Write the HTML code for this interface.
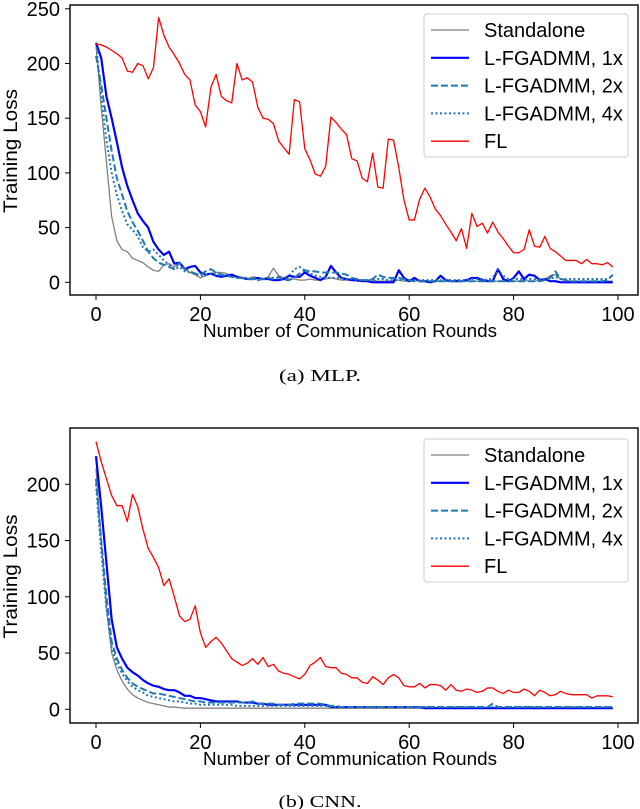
<!DOCTYPE html>
<html><head><meta charset="utf-8">
<style>
html,body{margin:0;padding:0;background:#fff;}
svg{display:block;}
text{font-family:"Liberation Sans","DejaVu Sans",sans-serif;fill:#000;}
.cap{font-family:"Liberation Serif",serif;font-size:17px;}
</style></head>
<body>
<svg id="svg" width="640" height="809" viewBox="0 0 640 809" xmlns="http://www.w3.org/2000/svg">
<text class="cap" x="320" y="381" text-anchor="middle" textLength="82" lengthAdjust="spacingAndGlyphs">(a)  MLP.</text>
<text class="cap" x="320" y="807" text-anchor="middle" textLength="83" lengthAdjust="spacingAndGlyphs">(b)  CNN.</text>
</svg>
<script>
const rounds = Array.from({length:100},(_, i)=>i);
const xTicks = [0,20,40,60,80,100];
const seriesNames = ["Standalone","L-FGADMM, 1x","L-FGADMM, 2x","L-FGADMM, 4x","FL"];

const mlpStandalone = [218,160,110,60,38,30,28,22,20,18,14,11,10,16,17,14,18,12,9,7,4,6,8,9,9,8,6,5,4,3,5,4,3,5,13,6,4,3,3,2,2,3,2,2,3,4,3,2,2,2,1,1,2,2,1,1,1,2,2,1,1,1,2,1,1,1,1,1,1,2,1,1,1,1,1,2,1,1,1,1,1,1,2,1,1,2,3,6,7,3,2,1,1,1,1,1,1,1,1,1];
const mlp1x = [219,205,170,150,128,105,88,75,63,56,50,37,30,25,28,17,18,12,14,15,9,7,8,6,5,6,7,5,4,3,3,4,3,3,2,2,3,6,5,5,9,6,4,2,5,15,9,4,3,2,2,1,1,0,0,0,0,0,11,4,1,4,1,1,0,1,6,2,1,1,1,2,4,4,2,1,1,12,3,1,4,10,3,7,6,2,3,1,1,0,0,0,0,0,0,0,0,0,0,0];
const mlp2x = [207,180,150,120,95,80,65,55,47,38,28,22,18,16,14,12,18,12,10,8,7,10,12,9,7,6,5,4,4,3,3,2,3,4,3,5,2,2,4,8,11,10,10,9,9,9,9,8,7,4,3,2,2,3,7,5,4,4,4,3,2,1,1,1,1,1,1,1,1,1,1,1,1,1,1,1,1,1,1,1,1,1,1,1,1,1,2,4,10,3,2,1,1,1,1,1,1,1,2,7];
const mlp4x = [219,170,130,100,80,65,53,48,42,32,28,30,25,20,16,12,14,10,9,8,6,7,8,7,6,6,5,4,4,4,3,3,3,4,4,3,4,6,12,14,11,8,6,5,4,4,4,4,3,3,2,2,2,2,3,3,2,2,2,2,2,2,2,2,2,2,2,2,2,2,2,2,3,3,3,2,4,12,6,3,3,3,3,3,3,3,3,3,5,3,3,3,3,3,3,3,3,3,3,6];
const mlpFL = [218,217,215,212,209,205,193,192,200,198,186,196,242,226,215,208,200,190,185,162,156,142,178,190,170,166,164,200,185,187,183,160,150,149,145,129,123,117,167,165,122,112,99,97,106,151,146,140,135,113,111,95,92,118,87,86,131,130,105,75,57,57,76,86,78,67,61,53,46,38,49,31,63,51,54,45,55,46,40,33,27,27,30,48,33,32,42,31,28,24,20,20,20,17,21,17,17,16,18,14];

const cnnStandalone = [214,150,90,50,35,25,18,13,10,8,6,5,4,3,2,2,1.5,1,1,1,1,1,1,1,1,1,1,1,1,1,1,1,1,1,1,1,1,1,1,1,1,1,1,1,1,1,1,1,1,1,1,1,1,1,1,1,1,1,1,1,1,1,1,1,1,1,1,1,1,1,1,1,1,1,1,1,1,1,1,1,1,1,1,1,1,1,1,1,1,1,1,1,1,1,1,1,1,1,1,1];
const cnn1x = [225,180,130,80,55,45,37,33,30,26,23,21,20,18,17,17,15,12,12,10,10,9,8,7,7,7,7,7,6,6,6,5,5,4,4,4,4,4,4,4,4,4,4,4,4,2,2,2,2,2,2,2,2,2,2,2,2,2,2,2,2,2,2,1,1,1,1,1,1,1,1,1,1,1,1,1,1,1,1,1,1,1,1,1,1,1,1,1,1,1,1,1,1,1,1,1,1,1,1,1];
const cnn2x = [205,150,100,60,45,35,28,23,20,18,16,14,14,13,12,11,10,9,8,7,7,6,6,6,6,6,6,6,6,6,7,5,5,5,5,4,4,4,5,5,5,5,5,5,4,3,3,2,2,2,2,2,2,2,2,2,2,2,2,2,2,2,2,2,2,2,2,2,2,2,2,2,2,2,2,2,5,2,2,2,2,2,2,2,2,2,2,2,2,2,2,2,2,2,2,2,2,2,2,2];
const cnn4x = [200,140,90,55,40,32,25,20,17,15,12,11,10,9,8,7,7,6,5,5,4,4,4,4,4,4,4,3,3,3,3,3,3,3,3,3,3,3,3,3,3,3,3,3,3,2,2,2,2,2,2,2,2,2,2,2,2,2,2,2,2,2,2,2,2,2,2,2,2,2,2,2,2,2,2,2,2,2,2,2,2,2,2,2,2,2,2,2,2,2,2,2,2,2,2,2,2,2,2,2];
const cnnFL = [238,220,205,190,181,181,167,191,180,160,143,135,126,110,116,100,83,78,80,92,68,55,60,64,59,52,45,42,39,41,45,40,46,38,40,34,32,31,29,27,31,39,42,46,38,37,37,32,31,28,28,24,23,29,26,22,28,31,28,21,20,20,23,19,22,22,21,17,22,17,16,18,17,15,16,19,19,16,14,17,15,15,18,16,12,17,15,12,13,16,14,13,13,13,13,10,12,12,12,11];

const mlpYTicks = [0,50,100,150,200,250];
const cnnYTicks = [0,50,100,150,200];

const NS="http://www.w3.org/2000/svg";
const svg=document.getElementById('svg');
function mk(tag,attrs,parent){const e=document.createElementNS(NS,tag);for(const k in attrs)e.setAttribute(k,attrs[k]);(parent||svg).appendChild(e);return e;}

const styles=[
 {stroke:"#808080",w:1.3,dash:""},
 {stroke:"#0000ff",w:2.2,dash:""},
 {stroke:"#1f77b4",w:2,dash:"7,3"},
 {stroke:"#1f77b4",w:2,dash:"2,2.5"},
 {stroke:"#ff0000",w:1.3,dash:""}
];

function chart(cfg){
  const g=mk('g',{});
  
  
  const L=70,R=638,T=cfg.top,B=cfg.bottom;
  const xS=v=>96+(v/100)*(618-96);
  const yS=v=>cfg.y0-(v*cfg.pxPerUnit);
  const clip='clip-'+cfg.name;
  const cp=mk('clipPath',{id:clip},g);mk('rect',{x:L,y:T,width:R-L,height:B-T},cp);
  xTicks.forEach(t=>{
    mk('line',{x1:xS(t),x2:xS(t),y1:B,y2:B+5,stroke:'#000','stroke-width':1},g);
    const tx=mk('text',{x:xS(t),y:B+26,'text-anchor':'middle','font-size':20},g);
    tx.textContent=t;
    
    
  });
  cfg.yTicks.forEach(t=>{
    mk('line',{x1:L-5,x2:L,y1:yS(t),y2:yS(t),stroke:'#000','stroke-width':1},g);
    const tx=mk('text',{x:L-10,y:yS(t)+7,'text-anchor':'end','font-size':20},g);
    tx.textContent=t;
    
    
  });
  cfg.series.forEach((arr,i)=>{
    const d=arr.map((v,j)=>(j?'L':'M')+xS(rounds[j]).toFixed(2)+','+yS(v).toFixed(2)).join(' ');
    const p=mk('path',{d:d,fill:'none',stroke:styles[i].stroke,'stroke-width':styles[i].w,'stroke-dasharray':styles[i].dash,'clip-path':'url(#'+clip+')','stroke-linejoin':'round'},g);
    
    
  });
  const frame=mk('rect',{x:L,y:T,width:R-L,height:B-T,fill:'none',stroke:'#000','stroke-width':1.4},g);
  
  
  const yl=mk('text',{x:0,y:0,'text-anchor':'middle','font-size':19,textLength:124,lengthAdjust:'spacingAndGlyphs',transform:`translate(17,${(T+B)/2+1}) rotate(-90)`},g);
  yl.textContent='Training Loss';
  
  
  const xl=mk('text',{x:350,y:B+42,'text-anchor':'middle','font-size':18,textLength:294,lengthAdjust:'spacingAndGlyphs'},g);
  xl.textContent='Number of Communication Rounds';
  
  
  const lg=mk('g',{},g);
  
  
  mk('rect',{x:424,y:cfg.legTop,width:204,height:143,rx:3,fill:'#fff','fill-opacity':0.85,stroke:'#ccc','stroke-width':1},lg);
  seriesNames.forEach((n,i)=>{
    const yy=cfg.legTop+16+i*27.8;
    mk('line',{x1:431,x2:469,y1:yy,y2:yy,stroke:styles[i].stroke,'stroke-width':styles[i].w,'stroke-dasharray':styles[i].dash},lg);
    const t=mk('text',{x:484,y:yy+7,'font-size':20},lg);
    t.textContent=n;
    
    
  });
}
chart({name:'mlp-chart',top:5,bottom:295,y0:282.3,pxPerUnit:54.7/50,yTicks:mlpYTicks,legTop:14,
  series:[mlpStandalone,mlp1x,mlp2x,mlp4x,mlpFL]});
chart({name:'cnn-chart',top:428,bottom:723,y0:709.3,pxPerUnit:225/200,yTicks:cnnYTicks,legTop:439,
  series:[cnnStandalone,cnn1x,cnn2x,cnn4x,cnnFL]});
</script>
</body></html>
